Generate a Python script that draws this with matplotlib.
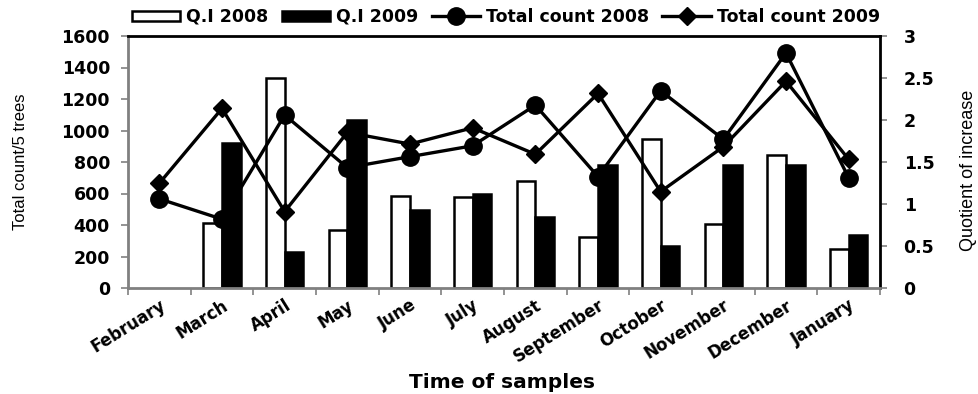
import numpy as np
import matplotlib

matplotlib.use("Agg")
import matplotlib.pyplot as plt

months = ["February", "March", "April", "May", "June", "July", "August",
          "September", "October", "November", "December", "January"]

# quotient of increase (right axis); no value for February
qi_2008 = [np.nan, 0.77, 2.50, 0.69, 1.09, 1.08, 1.27, 0.61, 1.77, 0.76, 1.58, 0.47]
qi_2009 = [np.nan, 1.73, 0.43, 2.00, 0.93, 1.12, 0.84, 1.46, 0.50, 1.47, 1.47, 0.63]

# total count per 5 trees (left axis)
total_2008 = [566, 437, 1098, 764, 834, 903, 1161, 707, 1252, 944, 1492, 700]
total_2009 = [665, 1140, 485, 988, 914, 1017, 849, 1235, 612, 897, 1313, 817]

plt.rcParams.update({
    "font.family": ["DejaVu Sans"],
    "font.weight": "bold",
})

fig = plt.figure(figsize=(9.79, 3.94), dpi=100)
ax = fig.add_axes([128 / 979, 1 - 288 / 394, 752 / 979, 252 / 394])
ax2 = ax.twinx()

x = np.arange(len(months))
w = 0.3
ax2.bar(x - w / 2, qi_2008, w, color="white", edgecolor="black", linewidth=1.8,
        label="Q.I 2008")
ax2.bar(x + w / 2, qi_2009, w, color="black", edgecolor="black", linewidth=1.8,
        label="Q.I 2009")

ax.plot(x, total_2008, "-o", color="black", lw=2.4, ms=12.5, label="Total count 2008")
ax.plot(x, total_2009, "-D", color="black", lw=2.4, ms=9.5, label="Total count 2009")

ax.set_zorder(ax2.get_zorder() + 1)
ax.patch.set_visible(False)

ax.set_xlim(-0.5, 11.5)
ax.set_ylim(0, 1600)
ax.set_yticks(range(0, 1601, 200))
ax2.set_ylim(0, 3)
ax2.set_yticks([0, 0.5, 1, 1.5, 2, 2.5, 3])
ax2.set_yticklabels(["0", "0.5", "1", "1.5", "2", "2.5", "3"])

ax.set_xticks(x)
ax.set_xticklabels(months, rotation=32, ha="right", rotation_mode="anchor")
ax.set_xticks(np.arange(-0.5, 12, 1), minor=True)
ax.tick_params(axis="x", which="major", length=0, pad=6, labelsize=12)
ax.tick_params(axis="x", which="minor", length=5, color="#808080", width=1.2)
ax.tick_params(axis="y", length=5, color="#808080", width=1.2, labelsize=12.5, pad=8)
ax2.tick_params(axis="y", length=5, color="#808080", width=1.2, labelsize=12.5, pad=12)

for s in ["left", "bottom"]:
    ax.spines[s].set_color("#808080")
    ax.spines[s].set_linewidth(2)
for s in ["top", "right"]:
    ax.spines[s].set_color("black")
    ax.spines[s].set_linewidth(2)
for s in ax2.spines.values():
    s.set_visible(False)

fig.text(21 / 979, 1 - 162 / 394, "Total count/5 trees", family="Liberation Sans",
         fontsize=12, fontweight="normal", rotation=90, ha="center", va="center")
fig.text(969 / 979, 1 - 170 / 394, "Quotient of increase", family="Liberation Sans",
         fontsize=13, fontweight="normal", rotation=90, ha="center", va="center")
fig.text(502 / 979, 6 / 394, "Time of samples", fontsize=14.5, fontweight="bold",
         ha="center", va="baseline")

h1, l1 = ax2.get_legend_handles_labels()
h2, l2 = ax.get_legend_handles_labels()
fig.legend(h1 + h2, l1 + l2, ncol=4, loc="center", bbox_to_anchor=(506 / 979, 1 - 17 / 394),
           frameon=False, fontsize=12.5, handlelength=2.8, handleheight=0.5,
           columnspacing=0.75, handletextpad=0.35, borderaxespad=0, borderpad=0)

fig.savefig("out.png", dpi=100)
